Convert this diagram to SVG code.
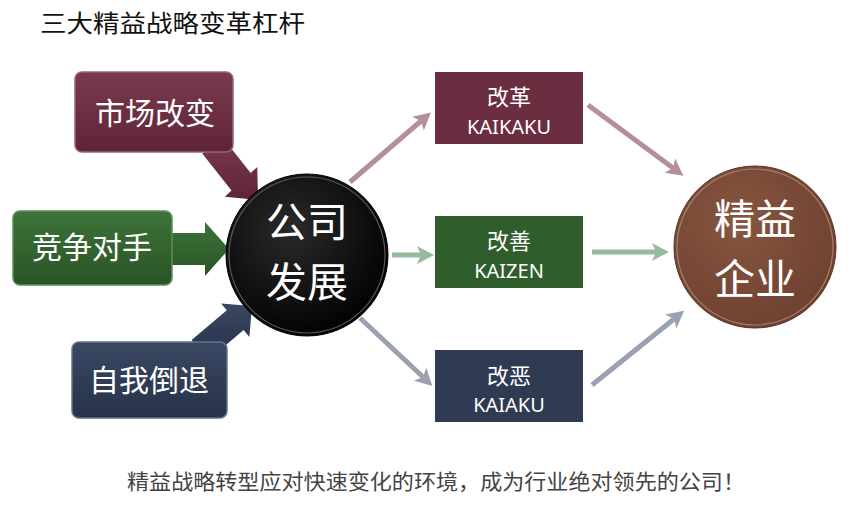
<svg xmlns="http://www.w3.org/2000/svg" width="850" height="512" viewBox="0 0 850 512">
<defs>
<style>
.cjk{font-family:"Noto Sans CJK SC","Noto Sans",sans-serif;}
.w{fill:#ffffff;}
.lbl{font-family:"Noto Sans","Noto Sans CJK SC",sans-serif;fill:#ffffff;}
.conn{fill:none;stroke-width:5;}
</style>
<linearGradient id="gM" x1="0" y1="0" x2="0" y2="1"><stop offset="0" stop-color="#7a3a4e"/><stop offset="1" stop-color="#5e2536"/></linearGradient>
<linearGradient id="gG" x1="0" y1="0" x2="0" y2="1"><stop offset="0" stop-color="#3d7339"/><stop offset="1" stop-color="#295426"/></linearGradient>
<linearGradient id="gB" x1="0" y1="0" x2="0" y2="1"><stop offset="0" stop-color="#3b4863"/><stop offset="1" stop-color="#26314a"/></linearGradient>
<radialGradient id="gBlack" cx="0.4" cy="0.35" r="0.7"><stop offset="0" stop-color="#2a2a2a"/><stop offset="1" stop-color="#000000"/></radialGradient>
<radialGradient id="gBrown" cx="0.4" cy="0.35" r="0.7"><stop offset="0" stop-color="#875641"/><stop offset="1" stop-color="#6e4030"/></radialGradient>
<marker id="aM" markerUnits="userSpaceOnUse" markerWidth="20" markerHeight="20" refX="4" refY="9" orient="auto"><path d="M0,0 L17,9 L0,18 L4,9 z" fill="#b48e9a"/></marker>
<marker id="aG" markerUnits="userSpaceOnUse" markerWidth="20" markerHeight="20" refX="4" refY="9" orient="auto"><path d="M0,0 L17,9 L0,18 L4,9 z" fill="#95bb9c"/></marker>
<marker id="aB" markerUnits="userSpaceOnUse" markerWidth="20" markerHeight="20" refX="4" refY="9" orient="auto"><path d="M0,0 L17,9 L0,18 L4,9 z" fill="#9aa2b2"/></marker>
</defs>
<rect width="850" height="512" fill="#ffffff"/>
<text class="cjk" x="40" y="32" font-size="24" fill="#111" textLength="265" lengthAdjust="spacingAndGlyphs">三大精益战略变革杠杆</text>

<g id="connectors">
<line class="conn" x1="350" y1="182" x2="421" y2="121" stroke="#b48e9a" marker-end="url(#aM)"/>
<line class="conn" x1="392" y1="255" x2="421" y2="255" stroke="#95bb9c" marker-end="url(#aG)"/>
<line class="conn" x1="360" y1="318" x2="423" y2="377" stroke="#9aa2b2" marker-end="url(#aB)"/>
<line class="conn" x1="588" y1="105" x2="673" y2="168" stroke="#b48e9a" marker-end="url(#aM)"/>
<line class="conn" x1="592" y1="252" x2="656" y2="252" stroke="#95bb9c" marker-end="url(#aG)"/>
<line class="conn" x1="592" y1="385" x2="674" y2="319" stroke="#9aa2b2" marker-end="url(#aB)"/>
</g>

<g id="market">
<polygon points="221.6,136.2 250.7,173 257.3,166.9 258,200 224.9,196.7 231.5,190.6 202.4,153.8" fill="url(#gM)"/>
<rect x="75" y="72" width="158" height="80" rx="7" fill="url(#gM)" stroke="#9a6474" stroke-width="1.5"/>
<text class="cjk w" x="155" y="124" font-size="30" text-anchor="middle">市场改变</text>
</g>

<g id="competitor">
<polygon points="170,233 205,233 205,222 229,249 205,276 205,265 170,265" fill="url(#gG)"/>
<rect x="13" y="211" width="159" height="74" rx="7" fill="url(#gG)" stroke="#5f8f5a" stroke-width="1.5"/>
<text class="cjk w" x="92" y="258" font-size="30" text-anchor="middle">竞争对手</text>
</g>

<g id="decline">
<polygon points="191.6,340.1 226.8,310.3 221,303.4 252,306 249.4,337 243.6,330.1 208.4,359.9" fill="url(#gB)"/>
<rect x="72" y="342" width="155" height="76" rx="7" fill="url(#gB)" stroke="#66728a" stroke-width="1.5"/>
<text class="cjk w" x="149" y="391" font-size="30" text-anchor="middle">自我倒退</text>
</g>

<g id="company">
<circle cx="307" cy="255" r="81" fill="url(#gBlack)" stroke="#000" stroke-width="1"/>
<circle cx="307" cy="255" r="78" fill="none" stroke="#777" stroke-width="1.2" opacity="0.7"/>
<text class="cjk w" x="307" y="237" font-size="41" text-anchor="middle">公司</text>
<text class="cjk w" x="307" y="297" font-size="41" text-anchor="middle">发展</text>
</g>

<g id="kaikaku">
<rect x="435" y="72" width="148" height="72" fill="#6b2e40"/>
<text class="cjk w" x="509" y="105" font-size="22" text-anchor="middle">改革</text>
<text class="lbl" x="509" y="134" font-size="20" text-anchor="middle">KAIKAKU</text>
</g>

<g id="kaizen">
<rect x="435" y="216" width="148" height="72" fill="#2f5e2c"/>
<text class="cjk w" x="509" y="249" font-size="22" text-anchor="middle">改善</text>
<text class="lbl" x="509" y="278" font-size="20" text-anchor="middle">KAIZEN</text>
</g>

<g id="kaiaku">
<rect x="435" y="350" width="148" height="72" fill="#2e3b53"/>
<text class="cjk w" x="509" y="384" font-size="22" text-anchor="middle">改恶</text>
<text class="lbl" x="509" y="412" font-size="20" text-anchor="middle">KAIAKU</text>
</g>

<g id="lean">
<circle cx="755" cy="247" r="81" fill="url(#gBrown)" stroke="#5a3122" stroke-width="1"/>
<circle cx="755" cy="247" r="78" fill="none" stroke="#c9a493" stroke-width="1.2" opacity="0.6"/>
<text class="cjk w" x="755" y="234" font-size="41" text-anchor="middle">精益</text>
<text class="cjk w" x="755" y="294" font-size="41" text-anchor="middle">企业</text>
</g>

<text class="cjk" x="127" y="489" font-size="21" fill="#444" textLength="618" lengthAdjust="spacingAndGlyphs">精益战略转型应对快速变化的环境，成为行业绝对领先的公司！</text>
</svg>
